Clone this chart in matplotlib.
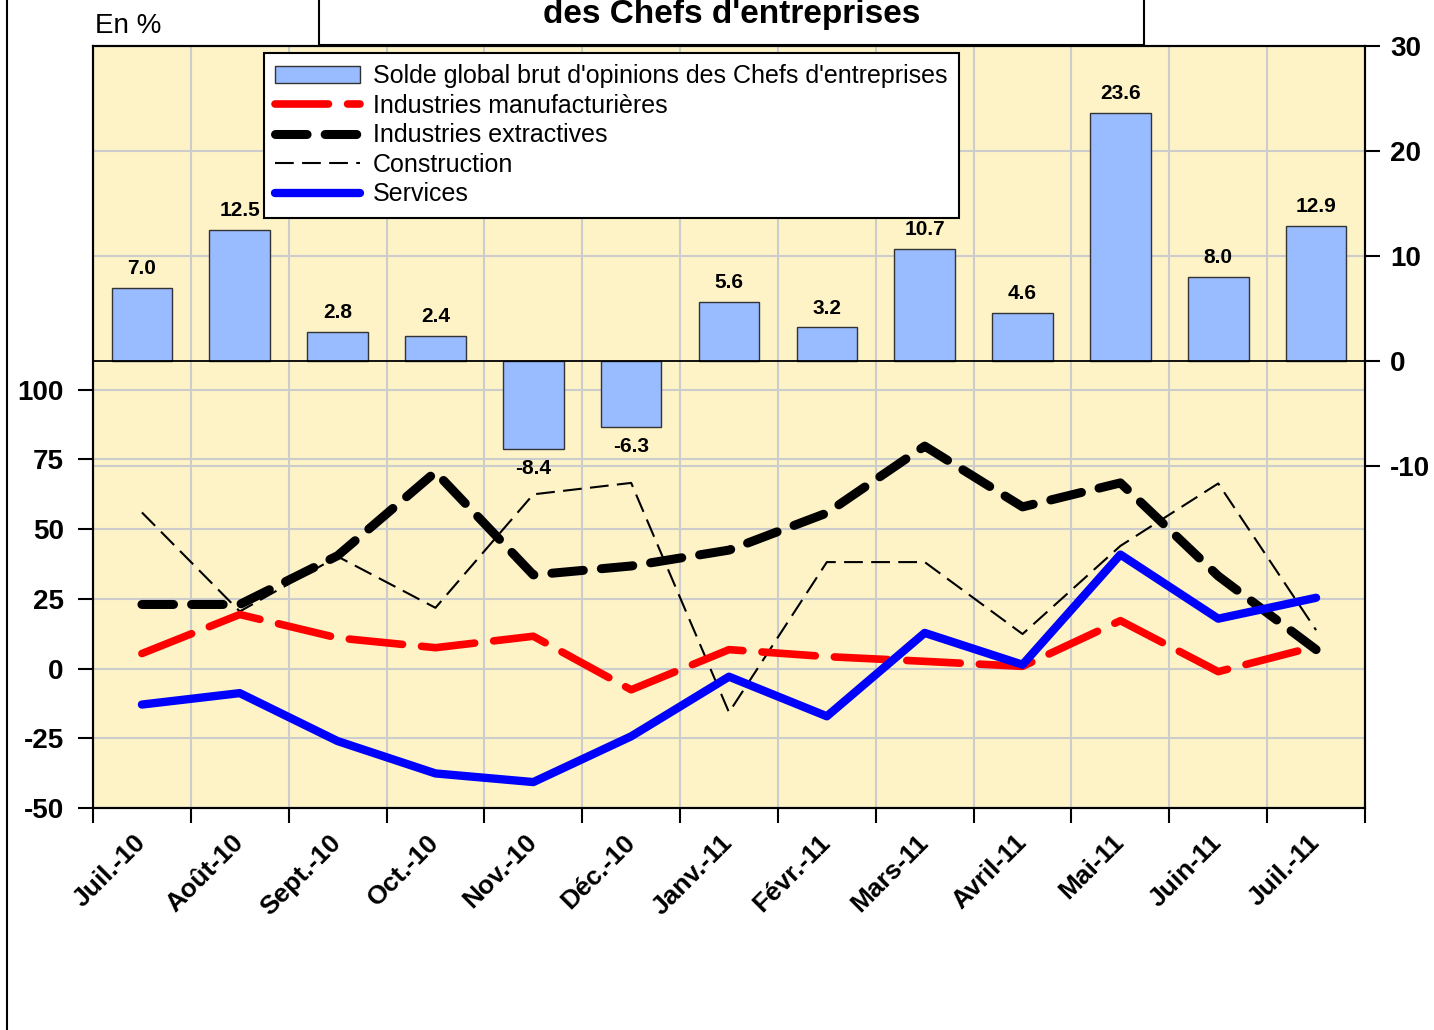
import numpy as np
import matplotlib
matplotlib.use("Agg")
import matplotlib.pyplot as plt
from matplotlib.patches import Rectangle
from matplotlib.lines import Line2D
from matplotlib.transforms import blended_transform_factory

plt.rcParams['font.family'] = ['Liberation Sans', 'DejaVu Sans']

months = ["Juil.-10", "Août-10", "Sept.-10", "Oct.-10", "Nov.-10", "Déc.-10", "Janv.-11",
          "Févr.-11", "Mars-11", "Avril-11", "Mai-11", "Juin-11", "Juil.-11"]

# solde global (axe de droite, barres)
solde_global = [7.0, 12.5, 2.8, 2.4, -8.4, -6.3, 5.6, 3.2, 10.7, 4.6, 23.6, 8.0, 12.9]

# soldes par secteur (axe de gauche, courbes)
manufacturieres = [5.4, 19.4, 11.0, 7.5, 11.6, -7.6, 6.8, 4.3, 2.6, 0.8, 17.2, -1.1, 8.0]
extractives = [23.0, 23.0, 40.5, 70.5, 33.6, 36.8, 42.5, 55.8, 79.8, 58.0, 66.6, 33.2, 6.8]
construction = [56.0, 20.5, 40.2, 21.8, 62.5, 66.6, -15.7, 38.2, 38.2, 12.4, 44.0, 66.4, 13.8]
services = [-12.9, -8.8, -26.0, -37.6, -40.7, -24.3, -2.9, -17.1, 12.8, 1.4, 40.9, 17.9, 25.4]

left_ticks = [-50, -25, 0, 25, 50, 75, 100]
right_ticks = [-10, 0, 10, 20, 30]

BG = "#FDF3C6"
GRID = "#CCCCCC"
BAR = "#99BBFF"


def main():
    fig = plt.figure(figsize=(14.34, 10.30), dpi=100)
    W, H = 1434, 1030
    ax_b = fig.add_axes([93 / W, 1 - 808 / H, (1365 - 93) / W, (808 - 46) / H])
    ax_l = ax_b.twinx()

    x = np.arange(len(months))

    # barres (axe de droite)
    ax_b.set_facecolor(BG)
    bars = ax_b.bar(x, solde_global, width=0.62, color=BAR, edgecolor="#333333",
                    linewidth=1.0, zorder=2, label="Solde global brut d'opinions des Chefs d'entreprises")
    ax_b.bar_label(bars, fmt="%.1f", padding=7, fontsize=15, fontweight="bold")
    ax_b.axhline(0, color="black", lw=1.3, zorder=3)
    ax_b.set_ylim(-42.57, 30)
    ax_b.set_xlim(-0.5, len(months) - 0.5)

    # grilles
    for v in right_ticks:
        if v != 0:
            ax_b.axhline(v, color=GRID, lw=1.5, zorder=0.5)
    tr = blended_transform_factory(ax_b.transAxes, ax_l.transData)
    for v in left_ticks:
        ax_b.plot([0, 1], [v, v], transform=tr, color=GRID, lw=1.5, zorder=0.5)
    for b in np.arange(-0.5, len(months)):
        ax_b.axvline(b, color=GRID, lw=1.5, zorder=0.5)

    # courbes (axe de gauche)
    ax_l.plot(x, construction, color="black", lw=1.5, dashes=(9, 4),
              label="Construction", zorder=2)
    ax_l.plot(x, manufacturieres, color="red", lw=5.5, dashes=(7, 2.5),
              dash_capstyle="round", label="Industries manufacturières", zorder=3)
    ax_l.plot(x, extractives, color="black", lw=6.5, dashes=(3.5, 2),
              dash_capstyle="round", label="Industries extractives", zorder=4)
    ax_l.plot(x, services, color="blue", lw=6, solid_capstyle="round",
              label="Services", zorder=5)
    ax_l.set_ylim(-50, 223.3)

    # axes et graduations
    ax_b.yaxis.tick_right()
    ax_l.yaxis.tick_left()
    ax_l.set_yticks(left_ticks)
    ax_l.set_yticklabels([str(t) for t in left_ticks], fontsize=20, fontweight="bold")
    ax_b.set_yticks(right_ticks)
    ax_b.set_yticklabels([str(t) for t in right_ticks], fontsize=20, fontweight="bold")
    ax_l.tick_params(axis="y", direction="out", length=11, width=1.5, pad=10)
    ax_b.tick_params(axis="y", direction="out", length=11, width=1.5, pad=7)

    ax_b.set_xticks(np.arange(-0.5, len(months)))
    ax_b.set_xticklabels([])
    ax_b.set_xticks(x, minor=True)
    ax_b.set_xticklabels(months, minor=True, rotation=45, ha="right", va="center",
                         rotation_mode="anchor", fontsize=19, fontweight="bold")
    ax_b.tick_params(axis="x", which="major", direction="out", length=11, width=1.5)
    ax_b.tick_params(axis="x", which="minor", length=0, pad=22)

    for a in (ax_b, ax_l):
        for s in a.spines.values():
            s.set_linewidth(1.5)

    # légende
    h_b, l_b = ax_b.get_legend_handles_labels()
    h_l, l_l = ax_l.get_legend_handles_labels()
    order = [1, 2, 0, 3]
    handles = h_b + [h_l[i] for i in order]
    labels = l_b + [l_l[i] for i in order]
    leg = ax_l.legend(handles, labels, loc="upper left",
                      bbox_to_anchor=(264 / W, 1 - 53 / H), bbox_transform=fig.transFigure,
                      borderaxespad=0, fontsize=18, handlelength=3.4, handletextpad=0.5,
                      labelspacing=0.22, borderpad=0.45, fancybox=False, framealpha=1,
                      edgecolor="black")
    leg.get_frame().set_linewidth(1.5)

    # cadre du titre et textes
    fig.patches.append(Rectangle((319 / W, 1 - 45 / H), (1144 - 319) / W, 0.1,
                                 transform=fig.transFigure, facecolor="white",
                                 edgecolor="black", lw=1.5))
    fig.text(732 / W, 1 - 23 / H, "des Chefs d'entreprises", ha="center", va="baseline",
             fontsize=24, fontweight="bold")
    fig.text(95 / W, 1 - 33 / H, "En %", ha="left", va="baseline", fontsize=20)
    fig.add_artist(Line2D([7 / W, 7 / W], [0, 1], transform=fig.transFigure,
                          color="black", lw=1.5))

    fig.savefig("out.png", dpi=100)


if __name__ == "__main__":
    main()
